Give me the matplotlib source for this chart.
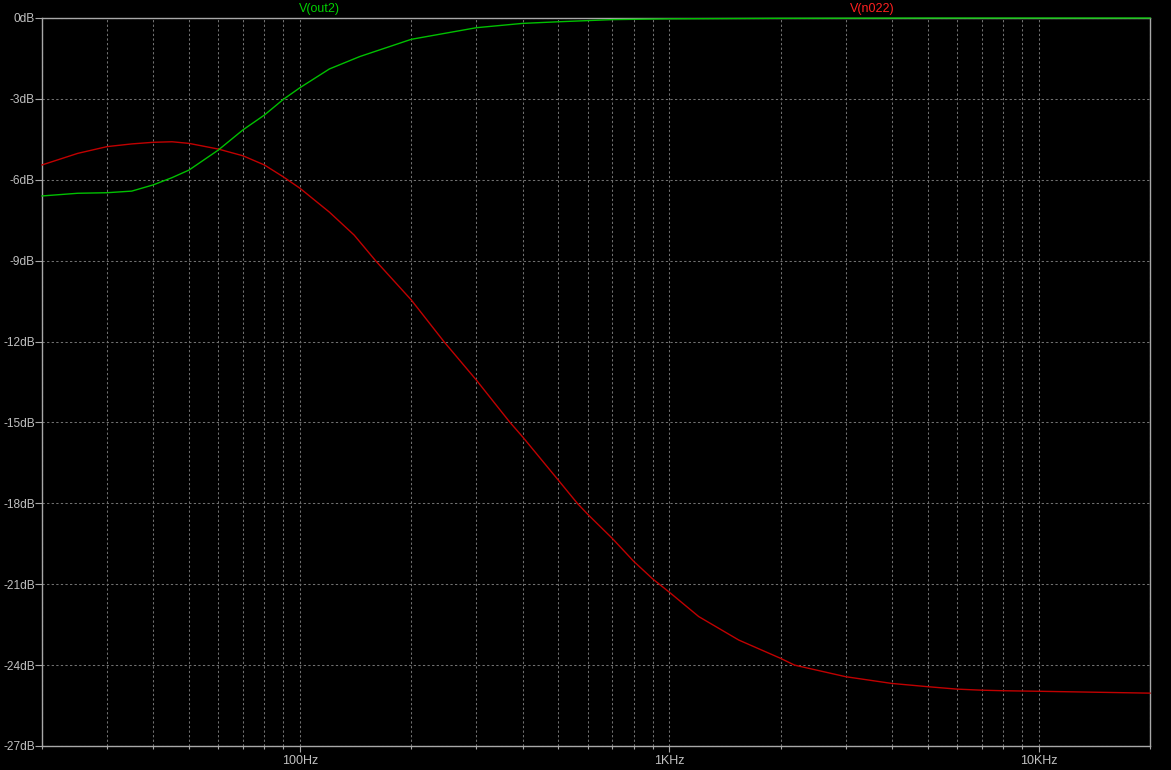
import matplotlib
matplotlib.use("Agg")
import matplotlib.pyplot as plt
from matplotlib.ticker import FixedLocator, NullFormatter

# ---- data ----
freq_out2 = [20, 25, 30, 35, 40, 45, 50, 60, 70, 80, 90, 100, 120, 145, 200,
             300, 400, 500, 700, 1000, 2000, 5000, 20000]
db_out2 = [-6.6, -6.5, -6.48, -6.42, -6.19, -5.92, -5.64, -4.9, -4.15, -3.6,
           -3.02, -2.58, -1.89, -1.43, -0.79, -0.36, -0.2, -0.14, -0.06, -0.03,
           -0.01, 0.0, 0.0]

freq_n022 = [20, 25, 30, 35, 40, 45, 50, 60, 70, 80, 90, 100, 120, 140, 160,
             200, 245, 300, 370, 400, 500, 563, 600, 700, 800, 900, 1000, 1200,
             1540, 2000, 2180, 3000, 4000, 5000, 6000, 7000, 8000, 10000, 20000]
db_n022 = [-5.45, -5.02, -4.77, -4.67, -4.61, -4.59, -4.65, -4.86, -5.11, -5.45,
           -5.89, -6.32, -7.2, -8.05, -9.0, -10.46, -12.0, -13.43, -15.0, -15.53,
           -17.14, -18.0, -18.4, -19.3, -20.15, -20.8, -21.3, -22.2, -23.07,
           -23.75, -24.0, -24.43, -24.68, -24.8, -24.89, -24.93, -24.95, -24.97,
           -25.04]

x_major = [100, 1000, 10000]
x_major_labels = ["100Hz", "1KHz", "10KHz"]
y_ticks = [0, -3, -6, -9, -12, -15, -18, -21, -24, -27]
y_labels = ["0dB", "-3dB", "-6dB", "-9dB", "-12dB", "-15dB", "-18dB", "-21dB",
            "-24dB", "-27dB"]
series_names = ["V(out2)", "V(n022)"]

plt.rcParams["font.family"] = ["Liberation Sans", "DejaVu Sans"]

# ---- figure ----
W, H = 1171, 770
fig = plt.figure(figsize=(W / 100, H / 100), dpi=100, facecolor="black")
ax = fig.add_axes([42 / W, 1 - 746 / H, (1150 - 42) / W, (746 - 18) / H])
ax.set_facecolor("black")

ax.set_xscale("log")
ax.set_xlim(20, 20000)
ax.set_ylim(-27, 0)

frame_col = "#a8a8a8"
grid_col = "#707070"
text_col = "#c0c0c0"

for s in ax.spines.values():
    s.set_color(frame_col)
    s.set_linewidth(1.0)

ax.xaxis.set_major_locator(FixedLocator(x_major))
ax.set_xticklabels(x_major_labels)
minor = [m * 10 ** e for e in range(1, 5) for m in range(2, 10) if 20 <= m * 10 ** e <= 20000]
ax.xaxis.set_minor_locator(FixedLocator(minor))
ax.xaxis.set_minor_formatter(NullFormatter())
ax.set_yticks(y_ticks)
ax.set_yticklabels(y_labels)

ax.tick_params(axis="x", which="major", direction="out", length=4.3, width=0.8,
               color=frame_col, labelcolor=text_col, labelsize=9, pad=2.5)
ax.tick_params(axis="x", which="minor", direction="out", length=2.2, width=0.8,
               color=frame_col)
ax.tick_params(axis="y", which="major", direction="out", length=4.8, width=0.8,
               color=frame_col, labelcolor=text_col, labelsize=8.6, pad=0.3)

dash = (0, (2.2, 2.2))
ax.grid(True, which="major", axis="both", color=grid_col, linestyle=dash, linewidth=0.75)
ax.grid(True, which="minor", axis="x", color=grid_col, linestyle=dash, linewidth=0.75)
ax.set_axisbelow(True)

ax.plot(freq_n022, db_n022, color="#c00000", linewidth=1.0, zorder=4, clip_on=False)
ax.plot(freq_out2, db_out2, color="#00c000", linewidth=1.0, zorder=5, clip_on=False)

fig.text(319 / W, 1 - 9 / H, series_names[0], color="#00d000", fontsize=9,
         ha="center", va="center")
fig.text(872 / W, 1 - 9 / H, series_names[1], color="#ff2020", fontsize=9,
         ha="center", va="center")

fig.savefig("out.png", dpi=100, facecolor="black")
